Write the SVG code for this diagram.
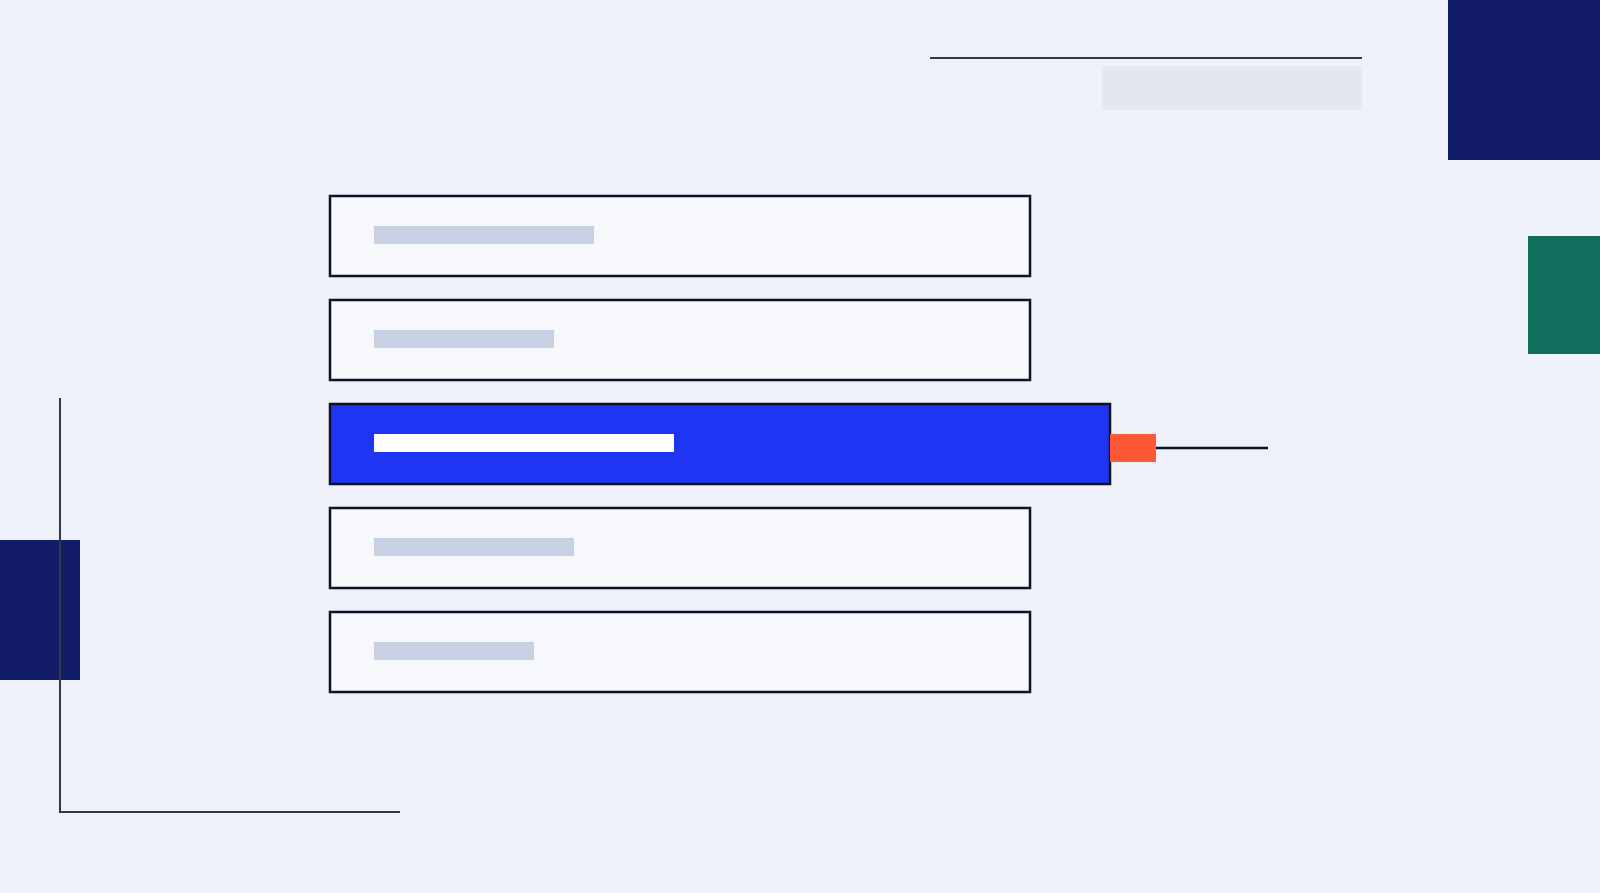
<svg xmlns="http://www.w3.org/2000/svg" width="1600" height="893" viewBox="0 0 1600 893">
  <style>
    .bg { fill: #EEF1F9; }
    .box { fill: #F7F8FC; stroke: #0E1224; stroke-width: 2.5; }
    .active { fill: #1F35F4; stroke: #0E1224; stroke-width: 2.5; }
    .bar { fill: #C8D1E3; }
    .bar-on { fill: #FFFFFF; }
    .line { stroke: #333845; stroke-width: 2; fill: none; }
    .navy { fill: #121C69; }
  </style>
  <rect class="bg" x="0" y="0" width="1600" height="893"/>

  <g id="decor">
    <rect class="navy" x="1448" y="0" width="152" height="160"/>
    <rect x="1528" y="236" width="72" height="118" fill="#106E5C"/>
    <rect class="navy" x="0" y="540" width="80" height="140"/>
    <rect x="1102" y="66" width="260" height="44" fill="#E3E7F2"/>
    <line class="line" x1="930" y1="58" x2="1362" y2="58"/>
    <polyline class="line" points="60,398 60,812 400,812"/>
  </g>

  <g id="item-1">
    <rect class="box" x="330" y="196" width="700" height="80"/>
    <rect class="bar" x="374" y="226" width="220" height="18"/>
  </g>
  <g id="item-2">
    <rect class="box" x="330" y="300" width="700" height="80"/>
    <rect class="bar" x="374" y="330" width="180" height="18"/>
  </g>
  <g id="item-3">
    <rect class="active" x="330" y="404" width="780" height="80"/>
    <rect class="bar-on" x="374" y="434" width="300" height="18"/>
  </g>
  <g id="item-4">
    <rect class="box" x="330" y="508" width="700" height="80"/>
    <rect class="bar" x="374" y="538" width="200" height="18"/>
  </g>
  <g id="item-5">
    <rect class="box" x="330" y="612" width="700" height="80"/>
    <rect class="bar" x="374" y="642" width="160" height="18"/>
  </g>

  <g id="connectors">
    <line x1="1156" y1="448" x2="1268" y2="448" stroke="#0E1224" stroke-width="2.5"/>
    <rect id="marker-tab" x="1110" y="434" width="46" height="28" fill="#FF5733"/>
  </g>
</svg>
